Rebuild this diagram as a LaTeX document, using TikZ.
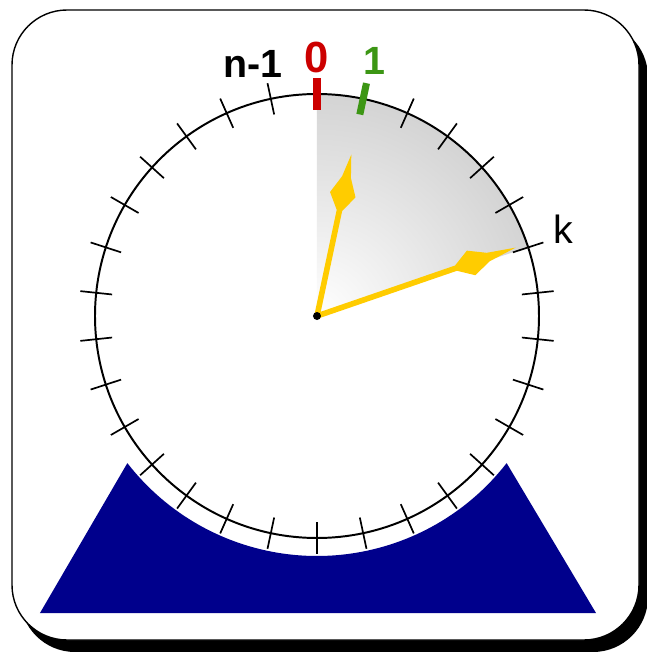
\documentclass[tikz,border=0pt]{standalone}
\usepackage{fontspec}
\setmainfont{Liberation Sans}
\usepackage{xcolor}
\usetikzlibrary{positioning}
\definecolor{basenavy}{RGB}{0,0,140}
\definecolor{handgold}{RGB}{255,204,0}
\definecolor{zerored}{RGB}{204,0,0}
\definecolor{onegreen}{RGB}{60,150,20}

% a clock hand: #1 angle, #2 length, #3 position of the diamond
\newcommand{\clockhand}[3]{%
  \fill[handgold, rotate=#1] (0,-2.8) -- (#3-18,-2.8) -- (#3-2,-13)
    -- (#3+16,-4.5) -- (#2,0) -- (#3+16,4.5) -- (#3-2,13)
    -- (#3-18,2.8) -- (0,2.8) -- cycle;}

\begin{document}
\begin{tikzpicture}[x=0.025cm, y=0.025cm,
    panel/.style={rounded corners=1.375cm},
    dial/.style={line width=1.4pt},
    tick/.style={line width=1.2pt},
    marktick/.style={line width=5pt},
    biglabel/.style={font=\fontsize{28}{30}\selectfont\bfseries, inner sep=0pt}
]
\useasboundingbox (-317,-336) rectangle (329,316);

% card and its shadow
\fill[black, panel] (-297,294) rectangle (331,-336);
\draw[fill=white, line width=1pt, panel] (-305,306) rectangle (322,-324);

\coordinate (c) at (0,0);

% shaded sector from 0 to k
\begin{scope}
  \clip (c) -- (90:222) arc (90:18:222) -- cycle;
  \shade[inner color=white, outer color=black!17] (c) circle (222);
\end{scope}

% dial and ticks
\draw[dial] (c) circle (222);
\foreach \i in {2,...,29}
  \draw[tick] ({90-12*\i}:206) -- ({90-12*\i}:238);
\draw[marktick, zerored] (90:206) -- (90:238);
\draw[marktick, onegreen] (78:206) -- (78:238);

% labels
\node[biglabel] (nminus) at (-64,252) {n-1};
\node[biglabel, font=\fontsize{31}{33}\selectfont\bfseries, text=zerored] (zero) at (0,259) {0};
\node[biglabel, font=\fontsize{28}{30}\selectfont\bfseries, text=onegreen] (one) at (57,255) {1};
\node[inner sep=0pt, font=\fontsize{28}{30}\selectfont] (kay) at (246,87) {k};

% hands
\clockhand{78}{165}{126}
\clockhand{19}{210}{165}
\fill[black] (c) circle (4);

% base
\fill[basenavy] (-277,-297) -- (217.8:240) arc (217.8:322.2:240) -- (279,-297) -- cycle;

\end{tikzpicture}
\end{document}
